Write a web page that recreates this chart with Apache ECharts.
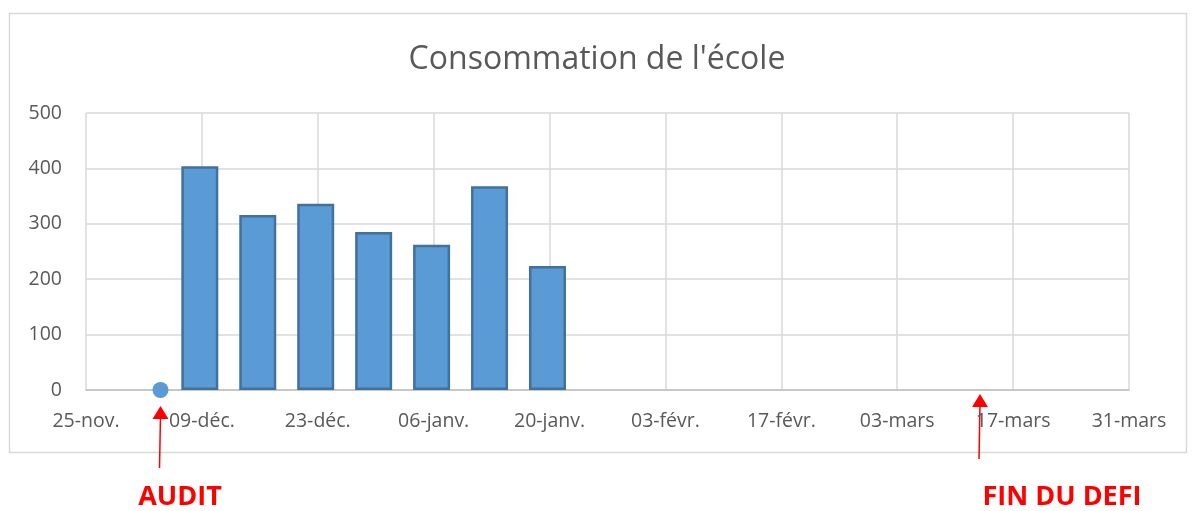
<!DOCTYPE html>
<html>
<head>
<meta charset="utf-8">
<title>Consommation de l'école</title>
<script src="https://cdn.jsdelivr.net/npm/echarts@6/dist/echarts.min.js"></script>
<style>
    html, body { margin: 0; padding: 0; background: #fff; }
    #chart { width: 1194px; height: 511px; }
</style>
</head>
<body>
<div id="chart"></div>
<script>
// Data
const startDate = '2020-11-25';
const weekDates = ['2020-12-09', '2020-12-16', '2020-12-23', '2020-12-30', '2021-01-06', '2021-01-13', '2021-01-20'];
const weekValues = [404, 316, 336, 285, 262, 368, 224];
const auditDate = '2020-12-04';
const auditValue = 0;
const endDate = '2021-03-13';
const tickLabels = ['25-nov.', '09-déc.', '23-déc.', '06-janv.', '20-janv.', '03-févr.', '17-févr.', '03-mars', '17-mars', '31-mars'];

const DAY = 24 * 3600 * 1000;
const FONT = '"Open Sans", "Noto Sans", sans-serif';

// Day offset from the first tick
function dayOf(d) {
    return Math.round((Date.parse(d) - Date.parse(startDate)) / DAY);
}

document.addEventListener('DOMContentLoaded', function() {
    const chart = echarts.init(document.getElementById('chart'));

    const option = {
        animation: false,
        title: {
            text: "Consommation de l'école",
            left: 'center',
            top: 39,
            textStyle: {
                color: '#595959',
                fontSize: 32,
                fontWeight: 'normal',
                fontFamily: FONT
            }
        },
        grid: { left: 86, right: 65, top: 113, bottom: 121 },
        xAxis: {
            type: 'value',
            min: 0,
            max: 126,
            interval: 14,
            axisLine: { show: true, onZero: false, lineStyle: { color: '#bfbfbf', width: 1.5 } },
            axisTick: { show: false },
            splitLine: { show: true, lineStyle: { color: '#d9d9d9', width: 1.5 } },
            axisLabel: {
                color: '#595959',
                fontSize: 19.5,
                fontFamily: FONT,
                margin: 21,
                showMinLabel: true,
                showMaxLabel: true,
                formatter: function(v) { return tickLabels[Math.round(v / 14)] || ''; }
            }
        },
        yAxis: {
            type: 'value',
            min: 0,
            max: 500,
            interval: 100,
            axisLine: { show: false },
            axisTick: { show: false },
            splitLine: { lineStyle: { color: '#d9d9d9', width: 1.5 } },
            axisLabel: {
                color: '#595959',
                fontSize: 19.5,
                fontFamily: FONT,
                margin: 24
            }
        },
        series: [
            {
                type: 'bar',
                barWidth: 37,
                data: weekDates.map((d, i) => [dayOf(d) - 0.25, weekValues[i]]),
                itemStyle: {
                    color: '#5b9bd5',
                    borderColor: '#41719c',
                    borderWidth: 2.5
                },
                z: 3
            },
            {
                type: 'scatter',
                symbol: 'circle',
                symbolSize: 16,
                data: [[dayOf(auditDate), auditValue]],
                itemStyle: { color: '#5b9bd5', opacity: 1 },
                z: 4
            }
        ]
    };

    chart.setOption(option);

    // Annotations below the axis: arrows and red captions
    const ax = chart.convertToPixel({ gridIndex: 0 }, [dayOf(auditDate), 0])[0];
    const ex = chart.convertToPixel({ gridIndex: 0 }, [dayOf(endDate), 0])[0];
    const red = '#ff0000';

    function arrow(x0, y0, x1, y1) {
        return [
            {
                type: 'line',
                shape: { x1: x0, y1: y0, x2: x1, y2: y1 + 10 },
                style: { stroke: red, lineWidth: 1.5 }
            },
            {
                type: 'polygon',
                shape: { points: [[x1, y1], [x1 - 8, y1 + 13], [x1 + 8, y1 + 13]] },
                style: { fill: red }
            }
        ];
    }

    chart.setOption({
        graphic: [
            {
                type: 'rect',
                shape: { x: 9.5, y: 13.5, width: 1177, height: 439 },
                style: { fill: 'none', stroke: '#d9d9d9', lineWidth: 1.5 },
                silent: true
            },
            ...arrow(ax - 1, 468, ax, 406),
            ...arrow(ex - 1, 459, ex, 394),
            {
                type: 'text',
                x: 180, y: 497,
                style: {
                    text: 'AUDIT', fill: red, fontSize: 27, fontWeight: 'bold',
                    fontFamily: FONT, align: 'center', verticalAlign: 'middle'
                }
            },
            {
                type: 'text',
                x: 1062, y: 497,
                style: {
                    text: 'FIN DU DEFI', fill: red, fontSize: 27, fontWeight: 'bold',
                    fontFamily: FONT, align: 'center', verticalAlign: 'middle'
                }
            }
        ]
    });
});
</script>
</body>
</html>
